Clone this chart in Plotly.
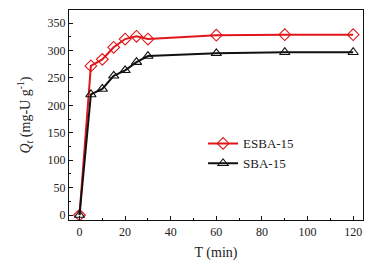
import plotly.graph_objects as go

time_min = [0, 5, 10, 15, 20, 25, 30, 60, 90, 120]
esba15 = [0, 272, 284, 306, 321, 326, 321, 328, 329, 329]
sba15 = [0, 220, 230, 254, 264, 279, 290, 295, 297, 297]

fig = go.Figure()
fig.add_trace(go.Scatter(
    x=time_min, y=esba15, name="ESBA-15", mode="lines+markers",
    line=dict(color="#e0161b", width=2),
    marker=dict(symbol="diamond-open", size=9, color="#e0161b", line=dict(width=1.1)),
))
fig.add_trace(go.Scatter(
    x=time_min, y=sba15, name="SBA-15", mode="lines+markers",
    line=dict(color="#111111", width=2),
    marker=dict(symbol="triangle-up-open", size=9, color="#111111", line=dict(width=1.1)),
))

font = dict(family="Liberation Serif", size=12, color="#222")
fig.update_layout(
    width=377, height=256,
    margin=dict(l=61, r=22, t=2, b=44),
    paper_bgcolor="white", plot_bgcolor="white",
    font=font,
    showlegend=True,
    legend=dict(x=0.456, y=0.317, xanchor="left", yanchor="middle",
                bgcolor="rgba(0,0,0,0)", font=dict(family="Liberation Serif", size=13),
                itemwidth=30, tracegroupgap=0),
)
fig.update_xaxes(
    range=[-4.6, 124.3], tickmode="array", tickvals=[0, 20, 40, 60, 80, 100, 120],
    ticks="inside", ticklen=4, tickwidth=1, tickcolor="#111",
    minor=dict(tickvals=[10, 30, 50, 70, 90, 110], ticks="inside", ticklen=2, tickcolor="#111"),
    showline=True, linecolor="#111", linewidth=1.2, mirror=True,
    showgrid=False, zeroline=False, automargin=False,
    title=dict(text="T (min)", font=dict(family="Liberation Serif", size=14), standoff=9),
    tickfont=dict(family="Liberation Serif", size=12),
)
fig.update_yaxes(
    range=[-9, 374], tickmode="array", tickvals=[0, 50, 100, 150, 200, 250, 300, 350],
    ticks="inside", ticklen=4, tickwidth=1, tickcolor="#111",
    minor=dict(tickvals=[25, 75, 125, 175, 225, 275, 325], ticks="inside", ticklen=2, tickcolor="#111"),
    showline=True, linecolor="#111", linewidth=1.2, mirror=True,
    showgrid=False, zeroline=False, automargin=False,
    title=dict(text="<i>Q</i><sub><i>t</i></sub> (mg-U g<sup>-1</sup>)",
               font=dict(family="Liberation Serif", size=14), standoff=13),
    tickfont=dict(family="Liberation Serif", size=12),
)

fig.write_html("out.html")
